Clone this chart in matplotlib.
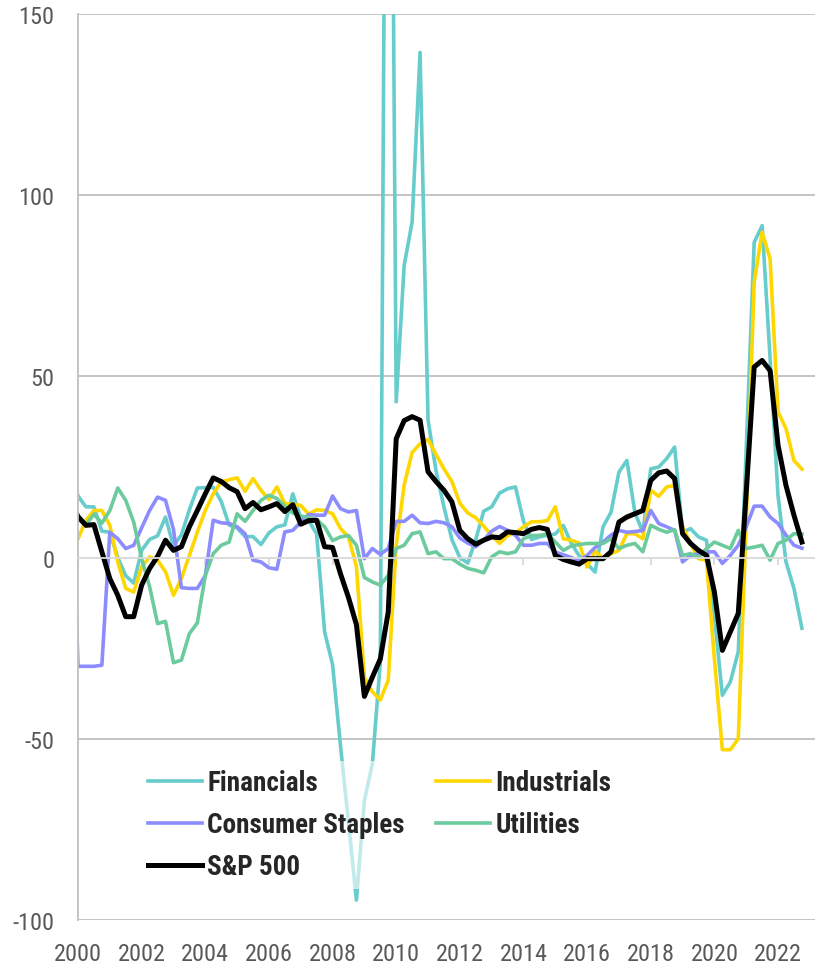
import matplotlib
matplotlib.use("Agg")
import matplotlib.pyplot as plt

# quarterly series, first value is 1999 Q4 (clipped at the left edge)
quarters = [1999.75 + 0.25 * k for k in range(93)]

financials = [25, 17, 14, 14, 7.3, 7, 0, -5, -7, 2, 5, 6, 11.2, 3.2, 6.3, 13.2, 19.2,
              19.3, 19.4, 15.5, 9, 8.2, 5.8, 5.8, 3.6, 6.8, 8.5, 9, 17.6, 11, 10.2, 6.5,
              -20.5, -29.5, -52, -73, -94.5, -67, -57, -29, 360, 43, 80.6, 92.6, 139.4,
              38, 24, 14, 5, 0, -1.5, 5, 12.8, 14, 17.8, 19, 19.5, 10, 5, 5.7, 6.2, 6.5,
              8.9, 4, 0.5, -1.7, -4, 8.5, 12.5, 23.6, 26.8, 12.5, 7, 24.5, 25, 27.3, 30.5,
              7, 8, 5.7, 4.8, -16, -38, -34.3, -26, 30, 87, 91.6, 55, 17, -1.2, -8.5, -19.5]

industrials = [2, 5.2, 10.3, 13, 13, 8.9, -1.2, -8.5, -9.5, -2.6, 0.2, -0.7, -3.9, -10.4,
               -5.8, 0.6, 7, 13, 17.6, 20.9, 21.5, 22, 18.3, 21.8, 18.6, 16, 19.5, 14.9,
               14.7, 14.4, 12, 13.2, 13, 12.1, 8, 5.7, -2.5, -33, -37, -39.3, -33.8, 3.4,
               20, 29, 31.4, 32.6, 28.5, 24.5, 21, 15, 12.3, 11, 8.7, 6.1, 3.9, 6.1, 6.8,
               8.5, 9.9, 9.9, 10.2, 14, 5.2, 4.8, 4, -2.6, 1.8, -0.3, 1.1, 2, 6.6, 6.6,
               5.2, 18.6, 16.9, 19.5, 19.9, 8.5, 3.9, -0.3, -0.7, -28, -53, -53, -50, 10,
               76, 89.8, 82.4, 40.2, 35.6, 26.8, 24.4]

staples = [40, -30, -30, -30, -29.7, 7, 5.2, 2.5, 3.4, 8.2, 13, 16.7, 15.8, 7.8, -8.3,
           -8.5, -8.5, -5, 10.3, 9.6, 9.4, 8.5, 6.6, -0.7, -1.2, -2.8, -3.2, 7.1, 7.5,
           9.8, 11.9, 11.7, 11.7, 17, 13.5, 12.6, 13, -0.3, 2.5, 0.9, 2.5, 10, 10, 11.7,
           9.6, 9.4, 10, 9.6, 8.5, 5.4, 4, 3, 4.8, 7.3, 8.6, 7.5, 6.1, 3.4, 3.4, 3.9,
           3.9, 1.5, 0.8, 0, -0.8, 0.6, 2.8, 4.3, 6.2, 7.5, 7, 7.2, 7.5, 13, 9.4, 8.5,
           7.5, -1.2, 0.6, 1.1, 1.6, 1.6, -1.6, 0.6, 3.4, 8.5, 14.2, 14.2, 11.2, 9.4,
           6.2, 3.4, 2.6]

utilities = [12, 11.7, 9, 12, 9.5, 13, 19.2, 15.8, 9.8, -0.3, -8, -18.2, -17.6, -29,
             -28.3, -21, -18, -5, 1.1, 3.4, 4.3, 12.1, 10, 13, 15.8, 17.2, 16.3, 14.2,
             12.3, 11.5, 11, 10.5, 8.5, 4.7, 5.7, 6.1, 3.4, -5.5, -6.7, -7.6, -4.9, 2.5,
             3.4, 6.6, 7.1, 1.1, 1.6, -0.3, -0.3, -1.8, -3, -3.5, -4.2, 0.2, 1.6, 1.1,
             1.6, 5.2, 6.1, 6.1, 6.6, 4.3, 2, 3.2, 3.6, 3.9, 3.9, 3.9, 5.2, 2.5, 3.4, 3.9,
             1.6, 8.9, 7.8, 7, 7.7, 0.6, 1.1, 0, 2.5, 4.3, 3.4, 2.5, 7.5, 2.5, 2.9, 3.4,
             -0.7, 3.9, 4.8, 6.6, 6.5]

sp500 = [16, 11.3, 8.9, 9.1, 1.6, -5.8, -10.4, -16.3, -16.3, -7.6, -3, 0.3, 4.8, 2, 3,
         8.5, 13, 17.6, 22, 21, 19.3, 18.2, 13.5, 15.2, 13.2, 14, 14.9, 12.7, 14.6, 9.2,
         10.2, 10.3, 3, 2.8, -4.5, -11, -18.5, -38.3, -33, -28, -15, 32.8, 37.8, 38.9,
         37.9, 23.7, 21, 18.6, 15.4, 7.5, 5.2, 3.7, 4.8, 5.7, 5.5, 7.1, 6.9, 6.6, 7.8,
         8.3, 7.8, 0.6, -0.5, -1.2, -1.8, -0.3, -0.3, -0.3, 1.6, 9.8, 11.2, 12.1, 13,
         21.3, 23.4, 23.9, 21.8, 6.6, 3.9, 2, 0.6, -9.5, -25.6, -20.5, -15.4, 18, 52.6,
         54.4, 51.6, 31, 19.9, 11.7, 4.3]

year_ticks = list(range(2000, 2023, 2))
value_ticks = [-100, -50, 0, 50, 100, 150]

plt.rcParams['font.family'] = ['Roboto Condensed', 'DejaVu Sans']

fig = plt.figure(figsize=(8.15, 9.7), dpi=100)
ax = fig.add_axes([78 / 815, 1 - 921 / 970, 737 / 815, 906 / 970])

ax.plot(quarters, financials, color='#66CCCC', lw=2.6, label='Financials')
ax.plot(quarters, industrials, color='#FFD700', lw=2.6, label='Industrials')
ax.plot(quarters, staples, color='#8C8CFF', lw=2.6, label='Consumer Staples')
ax.plot(quarters, utilities, color='#6CCB9C', lw=2.6, label='Utilities')
ax.plot(quarters, sp500, color='black', lw=3.6, label='S&P 500')

ax.set_xlim(2000, 2000 + 737 / 31.82)
ax.set_ylim(-100, 150)

# grid lines (zero is the axis line)
for v in value_ticks:
    if v != 0:
        ax.axhline(v, color='#BFBFBF', lw=1.3, zorder=0)

for s in ['top', 'right']:
    ax.spines[s].set_visible(False)
ax.spines['left'].set_color('#BFBFBF')
ax.spines['left'].set_linewidth(1.3)
ax.spines['bottom'].set_position(('data', 0))
ax.spines['bottom'].set_color('#D9D9D9')
ax.spines['bottom'].set_linewidth(1.3)

ax.set_xticks(year_ticks)
ax.tick_params(axis='x', direction='out', length=5, width=1.3, color='#D9D9D9',
               labelbottom=False)
ax.set_yticks(value_ticks)
ax.set_yticklabels([str(v) for v in value_ticks])
ax.tick_params(axis='y', length=0, pad=17, labelsize=17.5, labelcolor='#595959')

for yr in year_ticks:
    ax.text(yr, -0.0375, str(yr), transform=ax.get_xaxis_transform(),
            ha='center', va='center', fontsize=17.5, color='#595959')

h, l = ax.get_legend_handles_labels()
order = [0, 2, 4, 1, 3]
leg = ax.legend([h[i] for i in order], [l[i] for i in order], ncol=2,
                loc='upper left', bbox_to_anchor=(62 / 737, 0.1755),
                borderaxespad=0, borderpad=0.3, handlelength=2.0,
                handletextpad=0.19, columnspacing=1.15, labelspacing=0.56,
                frameon=True, framealpha=0.6, fancybox=False,
                prop={'weight': 'bold', 'size': 19.5})
leg.get_frame().set_facecolor('white')
leg.get_frame().set_edgecolor('none')
for t in leg.get_texts():
    t.set_color('#262626')

fig.savefig('out.png', dpi=100)
